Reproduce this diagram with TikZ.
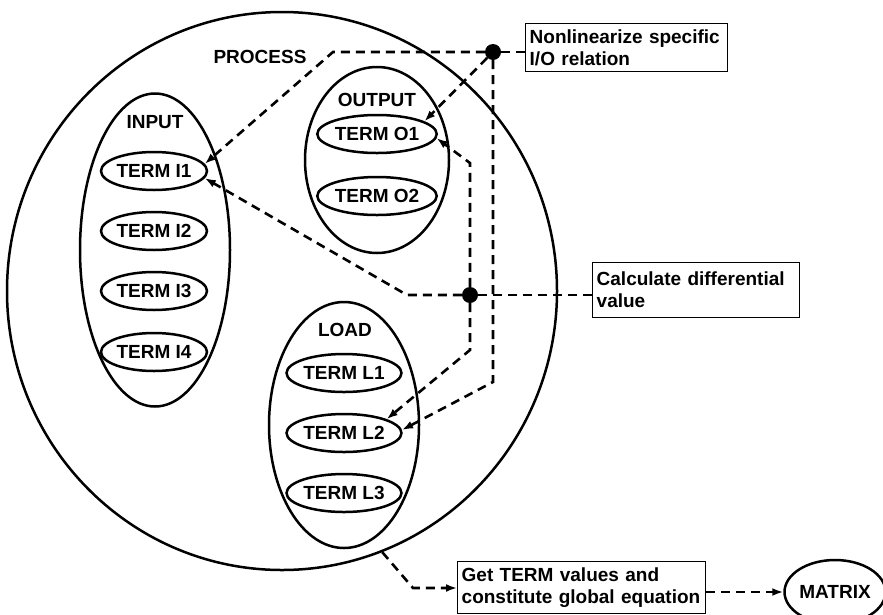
\documentclass[tikz,border=0pt]{standalone}
\usepackage{fontspec}
\setmainfont{Liberation Sans}
\usetikzlibrary{shapes.geometric}
\usetikzlibrary{arrows.meta}
\definecolor{ink}{RGB}{0,0,0}
\hyphenpenalty=10000

\begin{document}
\begin{tikzpicture}[x=1pt,y=-1pt,ink,font=\fontsize{19}{22}\selectfont\bfseries,
	grp/.style={draw,ellipse,line width=2.5pt,inner sep=0pt},
	term/.style={grp,minimum width=94pt,minimum height=38pt},
	task/.style={draw,rectangle,line width=1.4pt,align=left,inner xsep=4pt,anchor=north west},
	dsh/.style={line width=2.6pt,dash pattern=on 9pt off 6pt},
	tip/.style={dsh,-{Latex[length=11pt,width=8pt]}},
	blob/.style={circle,fill,inner sep=0pt,minimum size=16pt}]
	\useasboundingbox (0,0) rectangle (883,614);

	\node[grp,minimum width=550pt,minimum height=558pt] (proc) at (282,291) {};
	\node (proclbl) at (260,57) {PROCESS};

	\node[grp,minimum width=150pt,minimum height=313pt] (inp) at (155,250) {};
	\node (inplbl) at (155,122) {INPUT};
	\node[term] (i1) at (154,171) {TERM I1};
	\node[term] (i2) at (154,231) {TERM I2};
	\node[term] (i3) at (154,291) {TERM I3};
	\node[term] (i4) at (154,352) {TERM I4};

	\node[grp,minimum width=144pt,minimum height=186pt] (outp) at (377,160) {};
	\node (outlbl) at (377,100) {OUTPUT};
	\node[term] (o1) at (377,134) {TERM O1};
	\node[term] (o2) at (377,196) {TERM O2};

	\node[grp,minimum width=150pt,minimum height=246pt] (load) at (344,425) {};
	\node (loadlbl) at (345,330) {LOAD};
	\node[term] (l1) at (344,373) {TERM L1};
	\node[term] (l2) at (344,433) {TERM L2};
	\node[term] (l3) at (344,493) {TERM L3};

	\node[task,minimum width=202pt,minimum height=48pt,text width=194pt] (nonlin) at (525,23) {Nonlinearize specific\\I/O relation};
	\node[task,minimum width=207pt,minimum height=55pt,text width=199pt] (diff) at (592,262) {Calculate differential\\value};
	\node[task,minimum width=248pt,minimum height=52pt,text width=240pt] (getv) at (457,561) {Get TERM values and\\constitute global equation};
	\node[grp,minimum width=96pt,minimum height=64pt] (mtx) at (835,592) {MATRIX};

	\node[blob] (d1) at (493,52) {};
	\node[blob] (d2) at (470,295) {};
	\coordinate (c1) at (333,52);
	\coordinate (c2) at (407,295);
	\coordinate (b1) at (493,382);
	\coordinate (b2) at (470,163);
	\coordinate (b3) at (470,350);
	\coordinate (b4) at (413,588);

	\draw[dsh] (nonlin.west |- d1) -- (d1);
	\draw[tip] (d1) -- (c1) -- (i1.8);
	\draw[tip] (d1) -- (o1.15);
	\draw[tip] (d1) -- (b1) -- (l2.3);
	\draw[dsh] (diff.west |- d2) -- (d2);
	\draw[tip] (d2) -- (c2) -- (i1.-8);
	\draw[tip] (d2) -- (b2) -- (o1.-4);
	\draw[tip] (d2) -- (b3) -- (l2.18);
	\draw[tip] (proc.-69) -- (b4) -- (getv.west |- b4);
	\draw[tip] (getv.east |- mtx) -- (mtx.west);
\end{tikzpicture}
\end{document}
